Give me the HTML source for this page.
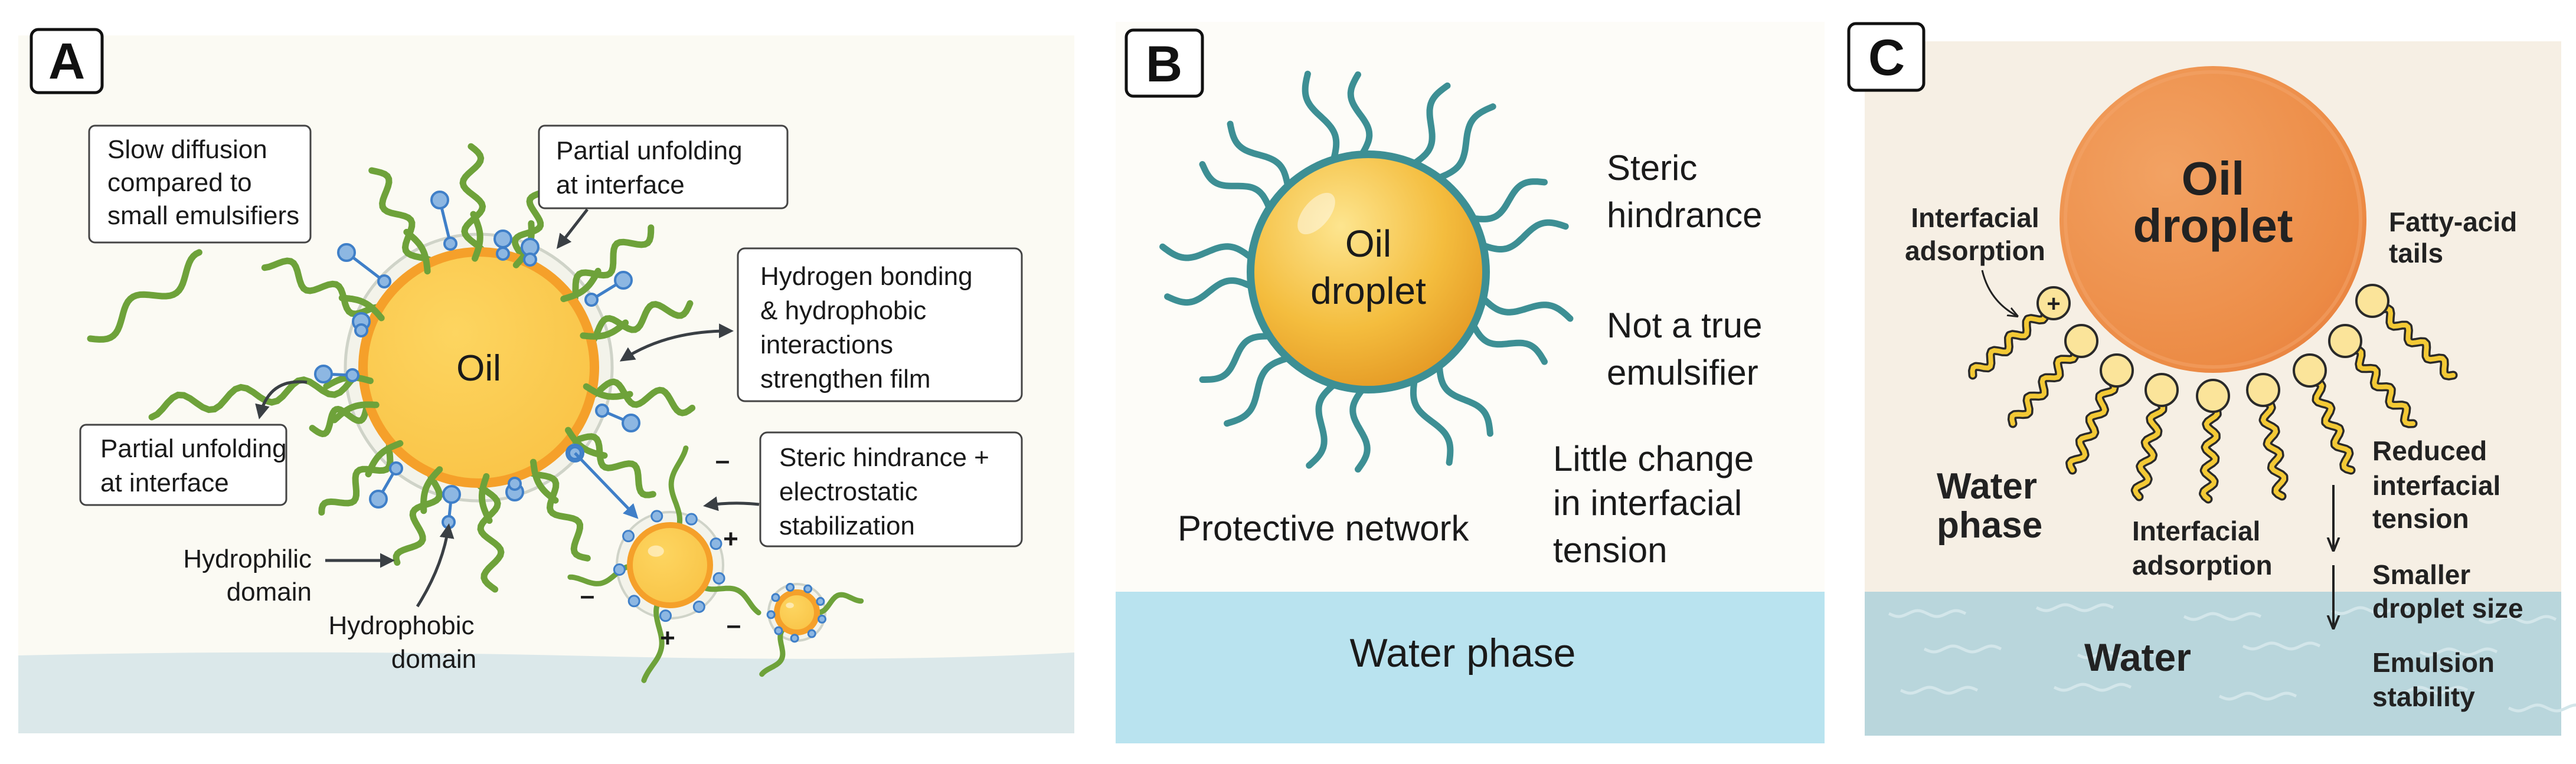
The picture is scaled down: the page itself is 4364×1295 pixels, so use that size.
<!DOCTYPE html>
<html><head><meta charset="utf-8">
<style>
html,body{margin:0;padding:0;background:#fff;}
svg{display:block;}
text{font-family:"Liberation Sans",sans-serif;fill:#1a1a1a;}
.a{font-size:44px;}
.b{font-size:60px;}
.c{font-size:46px;font-weight:bold;fill:#222;}
</style></head>
<body>
<svg id="s" xmlns="http://www.w3.org/2000/svg" width="4364" height="1295" viewBox="0 0 4364 1295">
<defs>
<radialGradient id="gb" cx="0.38" cy="0.3" r="0.75">
<stop offset="0" stop-color="#fde58f"/><stop offset="0.6" stop-color="#f4bd3e"/><stop offset="1" stop-color="#e59a25"/>
</radialGradient>
<radialGradient id="ga" cx="0.4" cy="0.35" r="0.7">
<stop offset="0" stop-color="#fdd560"/><stop offset="1" stop-color="#f9c447"/>
</radialGradient>
<radialGradient id="gc" cx="0.35" cy="0.35" r="0.75">
<stop offset="0" stop-color="#f2a263"/><stop offset="0.85" stop-color="#ec8b45"/><stop offset="1" stop-color="#e98240"/>
</radialGradient>
<marker id="ar" viewBox="0 0 10 10" refX="8" refY="5" markerWidth="5" markerHeight="5" orient="auto-start-reverse"><path d="M0,0 L10,5 L0,10 z" fill="#3a3f44"/></marker>
<marker id="arb" viewBox="0 0 10 10" refX="8" refY="5" markerWidth="5" markerHeight="5" orient="auto"><path d="M0,0 L10,5 L0,10 z" fill="#3f7fc8"/></marker>
<marker id="ark" viewBox="0 0 10 10" refX="8" refY="5" markerWidth="6" markerHeight="6" orient="auto"><path d="M0,1 L10,5 L0,9" fill="none" stroke="#222" stroke-width="1.6"/></marker>
</defs>

<!-- Panel A -->
<rect x="31" y="60" width="1789" height="1183" fill="#fbfaf3"/>
<path d="M31,1111 Q500,1100 1000,1112 T1820,1106 L1820,1243 L31,1243 z" fill="#dbe8ea"/>
<g id="gA"></g>
<rect x="53" y="50" width="120" height="107" rx="12" fill="#fff" stroke="#111" stroke-width="5"/>
<text x="113" y="133" text-anchor="middle" style="font-size:86px;font-weight:bold;fill:#111">A</text>

<rect x="151" y="213" width="375" height="198" rx="10" fill="#fff" stroke="#444" stroke-width="3"/>
<text class="a" x="182" y="268">Slow diffusion</text>
<text class="a" x="182" y="324">compared to</text>
<text class="a" x="182" y="380">small emulsifiers</text>

<rect x="913" y="213" width="421" height="140" rx="10" fill="#fff" stroke="#444" stroke-width="3"/>
<text class="a" x="942" y="270">Partial unfolding</text>
<text class="a" x="942" y="328">at interface</text>

<rect x="136" y="720" width="349" height="136" rx="10" fill="#fff" stroke="#444" stroke-width="3"/>
<text class="a" x="170" y="775">Partial unfolding</text>
<text class="a" x="170" y="833">at interface</text>

<rect x="1250" y="421" width="481" height="259" rx="12" fill="#fff" stroke="#444" stroke-width="3"/>
<text class="a" x="1288" y="483">Hydrogen bonding</text>
<text class="a" x="1288" y="541">&amp; hydrophobic</text>
<text class="a" x="1288" y="599">interactions</text>
<text class="a" x="1288" y="657">strengthen film</text>

<rect x="1288" y="733" width="443" height="193" rx="12" fill="#fff" stroke="#444" stroke-width="3"/>
<text class="a" x="1320" y="790">Steric hindrance +</text>
<text class="a" x="1320" y="848">electrostatic</text>
<text class="a" x="1320" y="906">stabilization</text>

<text class="a" x="528" y="962" text-anchor="end">Hydrophilic</text>
<text class="a" x="528" y="1018" text-anchor="end">domain</text>
<text class="a" x="680" y="1075" text-anchor="middle">Hydrophobic</text>
<text class="a" x="735" y="1132" text-anchor="middle">domain</text>

<g fill="none" stroke="#3a3f44" stroke-width="5">
<path d="M551,950 L664,950" marker-end="url(#ar)"/>
<path d="M707,1028 Q750,960 760,892" marker-end="url(#ar)"/>
<path d="M995,355 L946,418" marker-end="url(#ar)"/>
<path d="M520,648 Q455,640 440,706" marker-end="url(#ar)"/>
<path d="M1054,610 Q1130,560 1238,561" marker-start="url(#ar)" marker-end="url(#ar)"/>
<path d="M1286,855 Q1240,850 1196,857" marker-end="url(#ar)"/>
</g>
<path d="M974,768 L1078,876" fill="none" stroke="#3f7fc8" stroke-width="5" marker-end="url(#arb)"/>
<g style="font-size:44px;font-weight:bold;fill:#333">
<text x="1224" y="795" text-anchor="middle">–</text>
<text x="1238" y="928" text-anchor="middle">+</text>
<text x="995" y="1024" text-anchor="middle">–</text>
<text x="1131" y="1096" text-anchor="middle">+</text>
<text x="1243" y="1074" text-anchor="middle">–</text>
</g>

<!-- Panel B -->
<rect x="1890" y="37" width="1201" height="966" fill="#fdfcf8"/>
<rect x="1890" y="1003" width="1201" height="257" fill="#b9e3ef"/>
<g id="gB"></g>
<circle cx="2318" cy="461" r="206" fill="#3d8f94"/>
<circle cx="2318" cy="461" r="193" fill="url(#gb)"/>
<ellipse cx="2230" cy="362" rx="22" ry="42" transform="rotate(40 2230 362)" fill="#fff" opacity="0.45"/>
<text class="b" x="2318" y="435" text-anchor="middle" style="font-size:64px">Oil</text>
<text class="b" x="2318" y="515" text-anchor="middle" style="font-size:64px">droplet</text>
<rect x="1908" y="51" width="129" height="112" rx="12" fill="#fff" stroke="#111" stroke-width="5"/>
<text x="1972" y="138" text-anchor="middle" style="font-size:86px;font-weight:bold;fill:#111">B</text>
<text class="b" x="2722" y="305">Steric</text>
<text class="b" x="2722" y="385">hindrance</text>
<text class="b" x="2722" y="572">Not a true</text>
<text class="b" x="2722" y="652">emulsifier</text>
<text class="b" x="2631" y="798">Little change</text>
<text class="b" x="2631" y="873">in interfacial</text>
<text class="b" x="2631" y="953">tension</text>
<text class="b" x="1995" y="916">Protective network</text>
<text class="b" x="2478" y="1130" text-anchor="middle" style="font-size:68px">Water phase</text>

<!-- Panel C -->
<rect x="3159" y="70" width="1180" height="1177" fill="#f6efe4"/>
<rect x="3159" y="1003" width="1180" height="244" fill="#b9d6dc"/>
<g id="gW" fill="none" stroke="#d3e6ea" stroke-width="5"></g>
<circle cx="3749" cy="372" r="260" fill="url(#gc)"/>
<circle cx="3749" cy="372" r="250" fill="none" stroke="#f3a56b" stroke-width="6" opacity="0.5"/>
<g id="gC"></g>
<rect x="3132" y="40" width="127" height="113" rx="12" fill="#fff" stroke="#111" stroke-width="5"/>
<text x="3196" y="127" text-anchor="middle" style="font-size:86px;font-weight:bold;fill:#111">C</text>
<text x="3749" y="330" text-anchor="middle" style="font-size:80px;font-weight:bold;fill:#222">Oil</text>
<text x="3749" y="410" text-anchor="middle" style="font-size:80px;font-weight:bold;fill:#222">droplet</text>
<text class="c" x="3346" y="385" text-anchor="middle">Interfacial</text>
<text class="c" x="3346" y="441" text-anchor="middle">adsorption</text>
<path d="M3358,458 Q3370,510 3416,535" fill="none" stroke="#222" stroke-width="3" marker-end="url(#ark)"/>
<text class="c" x="4047" y="392">Fatty-acid</text>
<text class="c" x="4047" y="445">tails</text>
<text class="c" x="4019" y="780">Reduced</text>
<text class="c" x="4019" y="839">interfacial</text>
<text class="c" x="4019" y="895">tension</text>
<text class="c" x="4019" y="990">Smaller</text>
<text class="c" x="4019" y="1047">droplet size</text>
<text class="c" x="4019" y="1139">Emulsion</text>
<text class="c" x="4019" y="1197">stability</text>
<text x="3281" y="845" style="font-size:62px;font-weight:bold;fill:#222">Water</text>
<text x="3281" y="911" style="font-size:62px;font-weight:bold;fill:#222">phase</text>
<text class="c" x="3612" y="916">Interfacial</text>
<text class="c" x="3612" y="974">adsorption</text>
<text x="3531" y="1137" style="font-size:66px;font-weight:bold;fill:#222">Water</text>
<g fill="none" stroke="#222" stroke-width="4">
<path d="M3953,822 L3953,930" marker-end="url(#ark)"/>
<path d="M3953,958 L3953,1062" marker-end="url(#ark)"/>
</g>
</svg>
<script>
var NS="http://www.w3.org/2000/svg";
function el(p,t,a){var e=document.createElementNS(NS,t);for(var k in a)e.setAttribute(k,a[k]);p.appendChild(e);return e;}
function wave(x0,y0,x1,y1,amp,n){var dx=x1-x0,dy=y1-y0,L=Math.hypot(dx,dy),nx=-dy/L,ny=dx/L,d="";
for(var i=0;i<=40;i++){var t=i/40,o=amp*Math.sin(2*Math.PI*n*t);var x=x0+dx*t+nx*o,y=y0+dy*t+ny*o;d+=(i?"L":"M")+x.toFixed(1)+","+y.toFixed(1);}return d;}
function pol(cx,cy,r,a){a=a*Math.PI/180;return[cx+r*Math.cos(a),cy+r*Math.sin(a)];}
// Panel A
var A=document.getElementById("gA");
var cx=811,cy=623;
el(A,"circle",{cx:cx,cy:cy,r:226,fill:"#f3f3ea",stroke:"#cfd3c8","stroke-width":5});
var chains=[[-92,375],[-118,380],[-153,400],[173,560],[160,300],[136,362],[111,358],[86,377],[60,372],[35,365],[10,368],[-17,374],[-39,376],[-70,330]];
var gl=el(A,"g",{fill:"none",stroke:"#6ea23a","stroke-width":11,"stroke-linecap":"round"});
chains.forEach(function(c){var p0=pol(cx,cy,170,c[0]),p1=pol(cx,cy,c[1],c[0]);el(gl,"path",{d:wave(p0[0],p0[1],p1[0],p1[1],16,c[1]/150)});});
el(gl,"path",{d:wave(153,574,347,442,18,1.8)});
el(A,"circle",{cx:cx,cy:cy,r:196,fill:"url(#ga)",stroke:"#f5a02a","stroke-width":16});
// redraw chain segments near the edge over the circle
var gl2=el(A,"g",{fill:"none",stroke:"#6ea23a","stroke-width":11,"stroke-linecap":"round"});
chains.forEach(function(c){var p0=pol(cx,cy,185,c[0]),p1=pol(cx,cy,260,c[0]);el(gl2,"path",{d:wave(p0[0],p0[1],p1[0],p1[1],10,0.5)});});
el(A,"text",{x:cx,y:cy+22,"text-anchor":"middle",style:"font-size:62px"}).textContent="Oil";
var loll=[[745,339,763,413],[587,428,651,477],[1056,475,1002,508],[548,634,597,636],[1069,717,1020,696],[641,846,671,794],[852,405,852,430],[898,419,898,440],[612,545,612,560],[872,834,872,820],[765,838,760,885],[974,768,974,768]];
loll.forEach(function(l){el(A,"line",{x1:l[0],y1:l[1],x2:l[2],y2:l[3],stroke:"#3f7fc8","stroke-width":5});
el(A,"circle",{cx:l[0],cy:l[1],r:14,fill:"#8db7e2",stroke:"#3f7fc8","stroke-width":4});
el(A,"circle",{cx:l[2],cy:l[3],r:10,fill:"#8db7e2",stroke:"#3f7fc8","stroke-width":4});});
function small(x,y,r,h,ang){el(A,"circle",{cx:x,cy:y,r:h,fill:"#f3f3ea",stroke:"#cfd3c8","stroke-width":4});
var g=el(A,"g",{fill:"none",stroke:"#6ea23a","stroke-width":9,"stroke-linecap":"round"});
ang.forEach(function(a){var p0=pol(x,y,r*0.6,a[0]),p1=pol(x,y,a[1],a[0]);el(g,"path",{d:wave(p0[0],p0[1],p1[0],p1[1],10,1.2)});});
el(A,"circle",{cx:x,cy:y,r:r,fill:"url(#ga)",stroke:"#f5a02a","stroke-width":10});
el(A,"ellipse",{cx:x-r*0.35,cy:y-r*0.35,rx:r*0.2,ry:r*0.14,fill:"#fff",opacity:0.5});
for(var i=0;i<9;i++){var p=pol(x,y,h-4,i*40+15);el(A,"circle",{cx:p[0],cy:p[1],r:r>50?9:6,fill:"#8db7e2",stroke:"#3f7fc8","stroke-width":3});}}
small(1135,958,68,90,[[-85,200],[170,170],[100,200],[25,170]]);
small(1350,1038,34,48,[[-15,110],[115,120]]);
// Panel B
var B=document.getElementById("gB");var gb=el(B,"g",{fill:"none",stroke:"#3d8f94","stroke-width":11,"stroke-linecap":"round"});
for(var i=0;i<18;i++){var a=i*20-90+10*((i%2)?0.3:-0.3);var p0=pol(2318,461,200,a),p1=pol(2318,461,335+(i%3)*8,a);el(gb,"path",{d:wave(p0[0],p0[1],p1[0],p1[1],14,1)});}
// Panel C water lines
var W=document.getElementById("gW");
[[3200,1040],[3450,1030],[3700,1045],[3950,1035],[4200,1050],[3260,1100],[3520,1110],[3800,1095],[4100,1105],[3220,1170],[3480,1165],[3760,1180],[4050,1170],[4250,1200]].forEach(function(p){el(W,"path",{d:wave(p[0],p[1],p[0]+130,p[1],5,2)});});
// Panel C surfactants
var C=document.getElementById("gC");
var heads=[[3479,514],[3526,578],[3586,628],[3662,661],[3749,671],[3834,661],[3913,628],[3973,578],[4019,510]];
var tails=[[3342,636],[3410,718],[3511,797],[3624,842],[3741,846],[3866,841],[3983,797],[4088,718],[4156,636]];
heads.forEach(function(h,i){var t=tails[i];var d=wave(h[0],h[1],t[0],t[1],9,4.5);
el(C,"path",{d:d,fill:"none",stroke:"#2a2a2a","stroke-width":15,"stroke-linecap":"round","stroke-linejoin":"round"});
el(C,"path",{d:d,fill:"none",stroke:"#f3c935","stroke-width":8,"stroke-linecap":"round","stroke-linejoin":"round"});
el(C,"circle",{cx:h[0],cy:h[1],r:27,fill:"#fbe49a",stroke:"#2a2a2a","stroke-width":4});});
el(C,"text",{x:3479,y:528,"text-anchor":"middle",style:"font-size:40px;font-weight:bold;fill:#222"}).textContent="+";
</script>
</body></html>
